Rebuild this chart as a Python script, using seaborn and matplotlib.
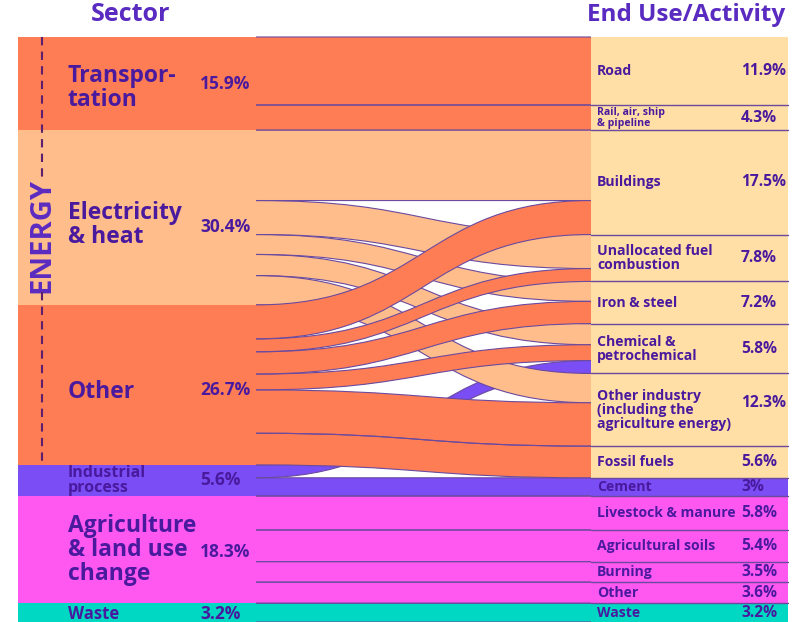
import matplotlib
matplotlib.use("Agg")
import matplotlib.pyplot as plt
import seaborn as sns
import pandas as pd
from matplotlib.path import Path
from matplotlib.patches import PathPatch, Rectangle

# ---------------- data ----------------
sectors = ["Transportation", "Electricity & heat", "Other", "Industrial process",
           "Agriculture & land use change", "Waste"]
sector_labels = ["Transpor-\ntation", "Electricity\n& heat", "Other", "Industrial\nprocess",
                 "Agriculture\n& land use\nchange", "Waste"]
sector_pct = ["15.9%", "30.4%", "26.7%", "5.6%", "18.3%", "3.2%"]

end_uses = ["Road", "Rail", "Buildings", "Unallocated", "Iron & steel", "Chemical",
            "Other industry", "Fossil fuels", "Cement", "Livestock", "Agricultural soils",
            "Burning", "Agri other", "Waste (end)"]
end_use_labels = ["Road", "Rail, air, ship\n& pipeline", "Buildings", "Unallocated fuel\ncombustion",
                  "Iron & steel", "Chemical &\npetrochemical",
                  "Other industry\n(including the\nagriculture energy)", "Fossil fuels", "Cement",
                  "Livestock & manure", "Agricultural soils", "Burning", "Other", "Waste"]
end_use_pct = ["11.9%", "4.3%", "17.5%", "7.8%", "7.2%", "5.8%", "12.3%", "5.6%", "3%",
               "5.8%", "5.4%", "3.5%", "3.6%", "3.2%"]

flow_source = ["Transportation", "Transportation",
               "Electricity & heat", "Electricity & heat", "Electricity & heat",
               "Electricity & heat", "Electricity & heat",
               "Other", "Other", "Other", "Other", "Other", "Other",
               "Industrial process", "Industrial process",
               "Agriculture & land use change", "Agriculture & land use change",
               "Agriculture & land use change", "Agriculture & land use change",
               "Waste"]
flow_target = ["Road", "Rail",
               "Buildings", "Unallocated", "Iron & steel", "Chemical", "Other industry",
               "Buildings", "Unallocated", "Iron & steel", "Chemical", "Other industry", "Fossil fuels",
               "Chemical", "Cement",
               "Livestock", "Agricultural soils", "Burning", "Agri other",
               "Waste (end)"]
flow_value = [11.6, 4.3,
              12.0, 5.8, 3.4, 3.6, 5.0,
              5.8, 2.2, 3.8, 2.7, 7.4, 5.4,
              2.2, 3.1,
              5.8, 5.4, 3.5, 3.6,
              3.2]

# ---------------- style ----------------
C_DARKOR = "#FF7D55"
C_LIGHTOR = "#FFBD8C"
C_PALE = "#FFDFA6"
C_PURPLE = "#7B4DF5"
C_MAGENTA = "#FF58F0"
C_TEAL = "#00D8C4"
TXT = "#4A1A9E"
HEAD = "#5A2BC0"
EDGE = "#6A4A9E"

sector_colors = [C_DARKOR, C_LIGHTOR, C_DARKOR, C_PURPLE, C_MAGENTA, C_TEAL]
end_colors = [C_PALE] * 8 + [C_PURPLE] + [C_MAGENTA] * 4 + [C_TEAL]
sector_z = [2, 3, 4, 2, 2, 2]
sector_fs = [16.5, 16.5, 16.5, 11.5, 16.5, 12]
sector_dy = [0.8, 1.2, 1.2, 0.0, 0.0, 0.2]     # label nudges (in data units)
pct_dy = [0.0, 1.6, 0.9, 0.0, 0.4, 0.2]

sns.set_theme(style="white")
plt.rcParams["font.family"] = ["Open Sans", "DejaVu Sans"]

# ---------------- layout ----------------
df = pd.DataFrame({"source": flow_source, "target": flow_target, "value": flow_value})
df["si"] = df["source"].map({s: i for i, s in enumerate(sectors)})
df["ti"] = df["target"].map({t: i for i, t in enumerate(end_uses)})

src_tot = df.groupby("si")["value"].sum().reindex(range(len(sectors)))
tgt_tot = df.groupby("ti")["value"].sum().reindex(range(len(end_uses)))
src_top = src_tot.cumsum() - src_tot
tgt_top = tgt_tot.cumsum() - tgt_tot
total = src_tot.sum()

df = df.sort_values(["si", "ti"])
df["y0"] = df.groupby("si")["value"].cumsum() - df["value"] + df["si"].map(src_top)
df = df.sort_values(["ti", "si"])
df["y1"] = df.groupby("ti")["value"].cumsum() - df["value"] + df["ti"].map(tgt_top)

XL0, XL1 = 18, 256
XR0, XR1 = 591, 788
top_margin = total * 37 / 585

fig = plt.figure(figsize=(8, 6.22), dpi=100)
ax = fig.add_axes([0, 0, 1, 1])
ax.set_xlim(0, 800)
ax.set_ylim(total, -top_margin)
ax.axis("off")

for i, s in enumerate(sectors):
    ax.add_patch(Rectangle((XL0, src_top[i]), XL1 - XL0, src_tot[i],
                           facecolor=sector_colors[i], edgecolor="none", zorder=1))

xm = (XL1 + XR0) / 2
for _, r in df.iterrows():
    v = r["value"]
    a0, a1 = r["y0"], r["y0"] + v
    b0, b1 = r["y1"], r["y1"] + v
    verts = [(XL1, a0), (xm, a0), (xm, b0), (XR0, b0),
             (XR0, b1), (xm, b1), (xm, a1), (XL1, a1), (XL1, a0)]
    codes = [Path.MOVETO, Path.CURVE4, Path.CURVE4, Path.CURVE4,
             Path.LINETO, Path.CURVE4, Path.CURVE4, Path.CURVE4, Path.CLOSEPOLY]
    z = sector_z[int(r["si"])]
    ax.add_patch(PathPatch(Path(verts, codes), facecolor=sector_colors[int(r["si"])],
                           edgecolor="none", zorder=z))
    for (p, q) in [(a0, b0), (a1, b1)]:
        e = Path([(XL1, p), (xm, p), (xm, q), (XR0, q)],
                 [Path.MOVETO, Path.CURVE4, Path.CURVE4, Path.CURVE4])
        ax.add_patch(PathPatch(e, facecolor="none", edgecolor=EDGE, lw=0.8, zorder=z + 0.1))

for j, t in enumerate(end_uses):
    ax.add_patch(Rectangle((XR0, tgt_top[j]), XR1 - XR0, tgt_tot[j],
                           facecolor=end_colors[j], edgecolor="none", zorder=6))
    if j > 0:
        ax.plot([XR0, XR1], [tgt_top[j], tgt_top[j]], color=EDGE, lw=1.0, zorder=7)

ax.text(131, -top_margin * 0.6, "Sector", ha="center", va="center", fontsize=18,
        fontweight="bold", color=HEAD)
ax.text(686, -top_margin * 0.6, "End Use/Activity", ha="center", va="center", fontsize=17.5,
        fontweight="bold", color=HEAD)

for i, s in enumerate(sectors):
    cy = src_top[i] + src_tot[i] / 2
    ax.text(68, cy + sector_dy[i], sector_labels[i], ha="left", va="center",
            fontsize=sector_fs[i], fontweight="bold", color=TXT,
            linespacing=1.0 if sector_fs[i] > 13 else 0.85, zorder=10)
    ax.text(200, cy + pct_dy[i], sector_pct[i], ha="left", va="center", fontsize=12.5,
            fontweight="bold", color=TXT, zorder=10)

# ENERGY bracket
e_top = src_top[0]
e_bot = src_top[2] + src_tot[2]
e_mid = total * (235 - 37) / 585
half = total * 0.098
ax.text(42, e_mid, "ENERGY", rotation=90, ha="center", va="center", fontsize=21,
        fontweight="bold", color=HEAD, zorder=10)
ax.plot([42, 42], [e_top, e_mid - half], color="#5C1F6E", lw=1.5, ls=(0, (4, 3)), zorder=10)
ax.plot([42, 42], [e_mid + half, e_bot], color="#5C1F6E", lw=1.5, ls=(0, (4, 3)), zorder=10)

for j, t in enumerate(end_uses):
    cy = tgt_top[j] + tgt_tot[j] / 2
    fs = 7.6 if j == 1 else 10.1
    ax.text(597, cy, end_use_labels[j], ha="left", va="center", fontsize=fs,
            fontweight="bold", color=TXT, linespacing=1.0, zorder=10)
    ax.text(741, cy - (total * 0.012 if j == 6 else 0), end_use_pct[j], ha="left",
            va="center", fontsize=11.2, fontweight="bold", color=TXT, zorder=10)

fig.savefig("out.png", dpi=100)
